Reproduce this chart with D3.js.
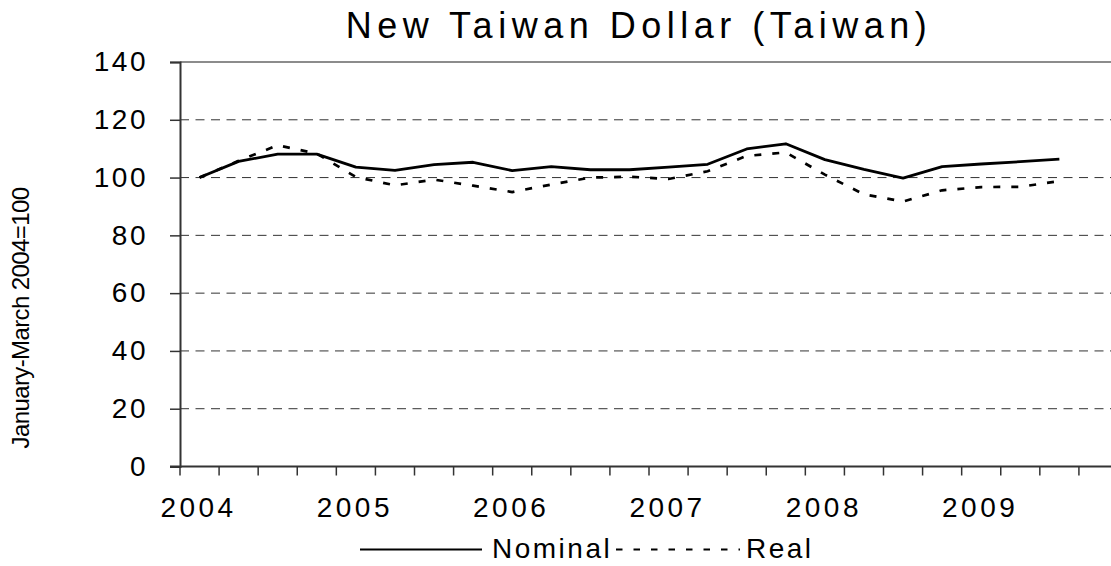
<!DOCTYPE html>
<html>
<head>
<meta charset="utf-8">
<script src="https://cdn.jsdelivr.net/npm/d3@7"></script>
<style>
  body { margin: 0; background: #fff; }
  text { font-family: "Liberation Sans", Arial, sans-serif; fill: #000; }
</style>
</head>
<body>
<div id="chart"></div>
<script>
// quarters, 2004Q1 .. 2009Q4 (last one has no data)
const quarters = ["2004Q1","2004Q2","2004Q3","2004Q4","2005Q1","2005Q2","2005Q3","2005Q4",
  "2006Q1","2006Q2","2006Q3","2006Q4","2007Q1","2007Q2","2007Q3","2007Q4",
  "2008Q1","2008Q2","2008Q3","2008Q4","2009Q1","2009Q2","2009Q3","2009Q4"];
const nominal = [100,105.6,108.1,108.1,103.6,102.5,104.5,105.3,102.4,103.8,102.7,102.7,
  103.6,104.6,109.9,111.7,106.2,102.8,99.8,103.8,104.7,105.5,106.4];
const real = [100,105.8,111.2,108.3,100.2,97.3,99.3,97.2,95,97.6,100,100.3,
  99.5,102.2,107.5,108.7,101,94.2,91.7,95.6,96.7,96.8,98.8];
const yTicks = [0,20,40,60,80,100,120,140];
const yearLabels = {"2004Q1":"2004","2005Q1":"2005","2006Q1":"2006","2007Q1":"2007","2008Q1":"2008","2009Q1":"2009"};

let width = 1111, height = 566;

let svg = d3.select("#chart").append("svg")
    .attr("width", width).attr("height", height);

let x = d3.scaleBand().domain(quarters).range([180, 1118]);
let y = d3.scaleLinear().domain([0, 140]).range([466.5, 62]);

// title
svg.append("text")
    .attr("x", 639).attr("y", 37.5)
    .attr("text-anchor", "middle")
    .style("font-size", "36px")
    .style("letter-spacing", "5.5px")
    .text("New Taiwan Dollar (Taiwan)");

// gridlines (top one is the solid plot border)
svg.selectAll(".grid")
    .data(yTicks.filter(d => d > 0))
    .enter().append("line")
    .attr("x1", 180).attr("x2", 1118)
    .attr("y1", d => y(d)).attr("y2", d => y(d))
    .attr("stroke", d => d == 140 ? "#8c8c8c" : "#333")
    .attr("stroke-width", d => d == 140 ? 2 : 1)
    .attr("stroke-dasharray", d => d == 140 ? null : "9,6.5");

// y axis
let yAxis = svg.append("g")
    .attr("transform", "translate(180,0)")
    .call(d3.axisLeft(y).tickValues(yTicks).tickSize(10).tickPadding(22));
yAxis.select(".domain").attr("stroke", "#333").attr("stroke-width", 2);
yAxis.selectAll(".tick line").attr("stroke", "#333").attr("stroke-width", 1.5);
yAxis.selectAll("text")
    .style("font-size", "28px")
    .style("letter-spacing", "2.5px")
    .attr("dy", "0.31em");

// x axis line + ticks at band edges
let edges = d3.range(quarters.length + 1).map(i => x.range()[0] + i * x.step());
svg.append("line")
    .attr("x1", 170).attr("x2", 1118)
    .attr("y1", y(0)).attr("y2", y(0))
    .attr("stroke", "#333").attr("stroke-width", 2);
svg.selectAll(".xtick")
    .data(edges).enter().append("line")
    .attr("x1", d => d).attr("x2", d => d)
    .attr("y1", y(0)).attr("y2", y(0) + 9)
    .attr("stroke", "#333").attr("stroke-width", 1.5);

// year labels under the first quarter of each year
svg.selectAll(".xlabel")
    .data(quarters.filter(q => yearLabels[q]))
    .enter().append("text")
    .attr("x", d => x(d) + x.bandwidth() / 2 - 1)
    .attr("y", 516.5)
    .attr("text-anchor", "middle")
    .style("font-size", "28px")
    .style("letter-spacing", "3.5px")
    .text(d => yearLabels[d]);

// y axis title
svg.append("text")
    .attr("transform", "translate(29,318) rotate(-90)")
    .attr("text-anchor", "middle")
    .style("font-size", "24px")
    .style("letter-spacing", "-0.6px")
    .text("January-March 2004=100");

// lines
let line = d3.line()
    .x((d, i) => x(quarters[i]) + x.bandwidth() / 2)
    .y(d => y(d));

svg.append("path")
    .datum(real)
    .attr("d", line)
    .attr("fill", "none")
    .attr("stroke", "#000")
    .attr("stroke-width", 2.7)
    .attr("stroke-dasharray", "7,11");

svg.append("path")
    .datum(nominal)
    .attr("d", line)
    .attr("fill", "none")
    .attr("stroke", "#000")
    .attr("stroke-width", 2.8)
    .attr("stroke-linejoin", "round");

// legend
let legend = svg.append("g");
legend.append("line")
    .attr("x1", 360).attr("x2", 482).attr("y1", 549.5).attr("y2", 549.5)
    .attr("stroke", "#000").attr("stroke-width", 2);
legend.append("text")
    .attr("x", 492).attr("y", 557.5)
    .style("font-size", "28px").style("letter-spacing", "2.5px")
    .text("Nominal");
legend.append("line")
    .attr("x1", 616).attr("x2", 740).attr("y1", 549.5).attr("y2", 549.5)
    .attr("stroke", "#000").attr("stroke-width", 2)
    .attr("stroke-dasharray", "6.5,11");
legend.append("text")
    .attr("x", 746).attr("y", 557.5)
    .style("font-size", "28px").style("letter-spacing", "2.5px")
    .text("Real");
</script>
</body>
</html>
